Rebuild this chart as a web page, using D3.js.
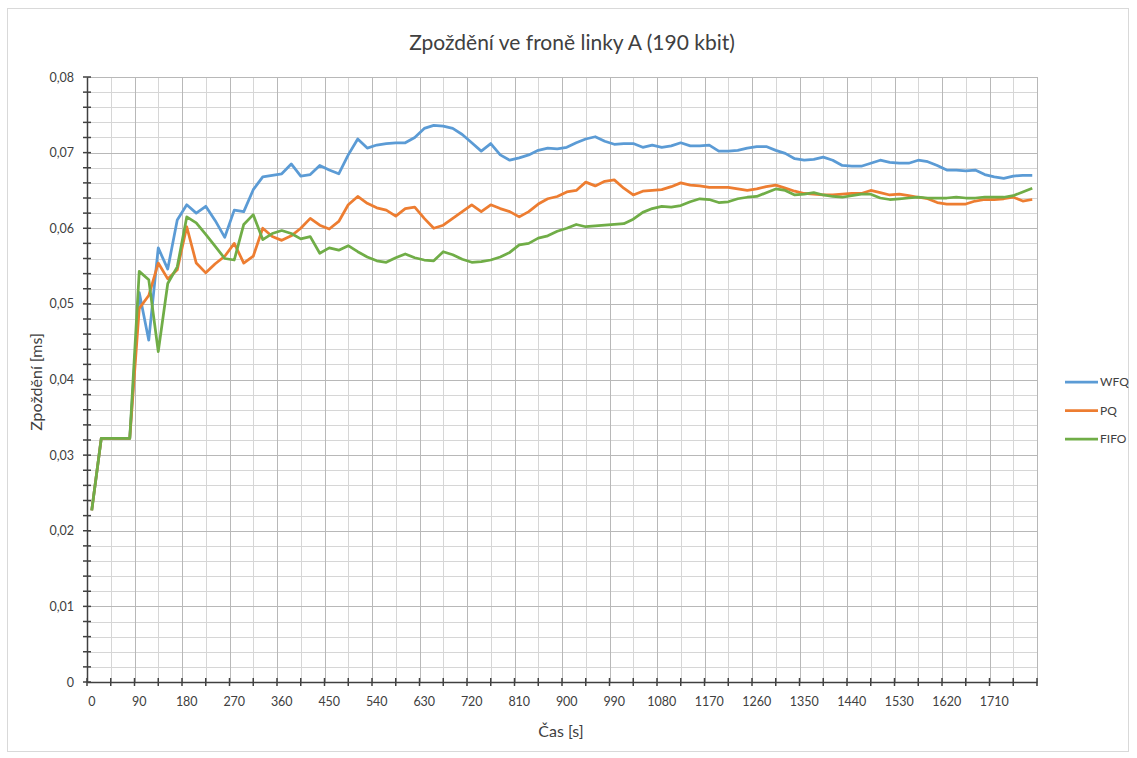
<!DOCTYPE html>
<html>
    <head>
        <meta charset="utf-8">
        <title>Zpoždění ve froně linky A</title>
        <script src="https://d3js.org/d3.v7.min.js"></script>
    </head>
    <style>
        body { margin: 0; background: #fff; }
        text { font-family: Lato, "Open Sans", sans-serif; fill: #404040; }
    </style>
    <body>

        <div id="chart"></div>

        <script>

            // time categories [s]
            var times = [0, 18, 36, 54, 72, 90, 108, 126, 144, 162,
                180, 198, 216, 234, 252, 270, 288, 306, 324, 342,
                360, 378, 396, 414, 432, 450, 468, 486, 504, 522,
                540, 558, 576, 594, 612, 630, 648, 666, 684, 702,
                720, 738, 756, 774, 792, 810, 828, 846, 864, 882,
                900, 918, 936, 954, 972, 990, 1008, 1026, 1044, 1062,
                1080, 1098, 1116, 1134, 1152, 1170, 1188, 1206, 1224, 1242,
                1260, 1278, 1296, 1314, 1332, 1350, 1368, 1386, 1404, 1422,
                1440, 1458, 1476, 1494, 1512, 1530, 1548, 1566, 1584, 1602,
                1620, 1638, 1656, 1674, 1692, 1710, 1728, 1746, 1764, 1782];

            var wfq = [0.0227, 0.0322, 0.0322, 0.0322, 0.0322, 0.0515, 0.0452, 0.0574, 0.0546, 0.0611,
                0.0631, 0.0620, 0.0629, 0.0610, 0.0588, 0.0624, 0.0622, 0.0651, 0.0668, 0.0670,
                0.0672, 0.0685, 0.0669, 0.0671, 0.0683, 0.0677, 0.0672, 0.0697, 0.0718, 0.0706,
                0.0710, 0.0712, 0.0713, 0.0713, 0.0720, 0.0732, 0.0736, 0.0735, 0.0732, 0.0724,
                0.0713, 0.0702, 0.0712, 0.0697, 0.0690, 0.0693, 0.0697, 0.0703, 0.0706, 0.0705,
                0.0707, 0.0713, 0.0718, 0.0721, 0.0715, 0.0711, 0.0712, 0.0712, 0.0707, 0.0710,
                0.0707, 0.0709, 0.0713, 0.0709, 0.0709, 0.0710, 0.0702, 0.0702, 0.0703, 0.0706,
                0.0708, 0.0708, 0.0703, 0.0699, 0.0692, 0.0690, 0.0691, 0.0694, 0.0690, 0.0683,
                0.0682, 0.0682, 0.0686, 0.0690, 0.0687, 0.0686, 0.0686, 0.0690, 0.0688, 0.0683,
                0.0677, 0.0677, 0.0676, 0.0677, 0.0671, 0.0668, 0.0666, 0.0669, 0.0670, 0.0670];

            var pq = [0.0227, 0.0322, 0.0322, 0.0322, 0.0322, 0.0494, 0.0511, 0.0554, 0.0533, 0.0545,
                0.0602, 0.0554, 0.0541, 0.0553, 0.0563, 0.0580, 0.0554, 0.0563, 0.0600, 0.0589,
                0.0584, 0.0590, 0.0600, 0.0613, 0.0604, 0.0599, 0.0609, 0.0631, 0.0642, 0.0633,
                0.0627, 0.0624, 0.0616, 0.0626, 0.0628, 0.0613, 0.0600, 0.0604, 0.0613, 0.0622,
                0.0631, 0.0622, 0.0631, 0.0626, 0.0622, 0.0615, 0.0622, 0.0632, 0.0639, 0.0642,
                0.0648, 0.0650, 0.0661, 0.0656, 0.0662, 0.0664, 0.0653, 0.0644, 0.0649, 0.0650,
                0.0651, 0.0655, 0.0660, 0.0657, 0.0656, 0.0654, 0.0654, 0.0654, 0.0652, 0.0650,
                0.0652, 0.0655, 0.0657, 0.0653, 0.0649, 0.0646, 0.0645, 0.0644, 0.0644, 0.0645,
                0.0646, 0.0646, 0.0650, 0.0647, 0.0644, 0.0645, 0.0643, 0.0641, 0.0639, 0.0634,
                0.0632, 0.0632, 0.0632, 0.0636, 0.0638, 0.0638, 0.0639, 0.0641, 0.0636, 0.0638];

            var fifo = [0.0227, 0.0322, 0.0322, 0.0322, 0.0322, 0.0543, 0.0532, 0.0437, 0.0527, 0.0549,
                0.0615, 0.0607, 0.0592, 0.0576, 0.0560, 0.0558, 0.0605, 0.0618, 0.0585, 0.0593,
                0.0597, 0.0593, 0.0586, 0.0589, 0.0567, 0.0574, 0.0571, 0.0577, 0.0569, 0.0562,
                0.0557, 0.0555, 0.0561, 0.0566, 0.0561, 0.0558, 0.0557, 0.0569, 0.0565, 0.0559,
                0.0555, 0.0556, 0.0558, 0.0562, 0.0568, 0.0578, 0.0580, 0.0587, 0.0590, 0.0596,
                0.0600, 0.0605, 0.0602, 0.0603, 0.0604, 0.0605, 0.0606, 0.0612, 0.0621, 0.0626,
                0.0629, 0.0628, 0.0630, 0.0635, 0.0639, 0.0638, 0.0634, 0.0635, 0.0639, 0.0641,
                0.0642, 0.0647, 0.0652, 0.0650, 0.0644, 0.0645, 0.0647, 0.0644, 0.0642, 0.0641,
                0.0643, 0.0645, 0.0645, 0.0640, 0.0638, 0.0639, 0.0640, 0.0641, 0.0640, 0.0640,
                0.0640, 0.0641, 0.0640, 0.0640, 0.0641, 0.0641, 0.0641, 0.0643, 0.0648, 0.0653];

            var seriesNames = ["WFQ", "PQ", "FIFO"];
            var seriesColors = ["#5b9bd5", "#ed7d31", "#70ad47"];
            var yMajor = [0, 0.01, 0.02, 0.03, 0.04, 0.05, 0.06, 0.07, 0.08];

            var W = 1137, H = 758;
            var margin = {top: 77, right: 100, bottom: 76, left: 87},
                width = W - margin.left - margin.right,
                height = H - margin.top - margin.bottom;

            var svg0 = d3.select("#chart")
            .append("svg")
                .attr("width", W)
                .attr("height", H);

            // outer chart frame
            svg0.append("rect")
                .attr("x", 7.5).attr("y", 8.5)
                .attr("width", 1121).attr("height", 743)
                .attr("fill", "#fff")
                .attr("stroke", "#d9d9d9");

            var svg = svg0.append("g")
                .attr("transform", "translate(" + margin.left + "," + margin.top + ")");

            var x = d3.scaleBand().domain(times).range([0, width]);
            var bw = x.bandwidth();
            var y = d3.scaleLinear().domain([0, 0.08]).range([height, 0]);

            // vertical grid: major every 5 categories, minor halfway
            var vMajor = [], vMinor = [];
            for (var i = 0; i <= times.length; i += 5) {
                vMajor.push(i < times.length ? x(times[i]) : width);
                if (i + 2 < times.length) vMinor.push(x(times[i + 2]) + bw / 2);
            }
            var yMinor = d3.range(0, 0.0801, 0.002).filter(function(d) {
                return Math.abs(d * 100 - Math.round(d * 100)) > 1e-6;
            });

            svg.selectAll(".hmin").data(yMinor).enter().append("line")
                .attr("x1", 0).attr("x2", width)
                .attr("y1", function(d) { return Math.round(y(d)) + 0.5; })
                .attr("y2", function(d) { return Math.round(y(d)) + 0.5; })
                .attr("stroke", "#d6d6d6");
            svg.selectAll(".vmin").data(vMinor).enter().append("line")
                .attr("y1", 0).attr("y2", height)
                .attr("x1", function(d) { return Math.round(d) + 0.5; })
                .attr("x2", function(d) { return Math.round(d) + 0.5; })
                .attr("stroke", "#d6d6d6");
            svg.selectAll(".hmaj").data(yMajor).enter().append("line")
                .attr("x1", 0).attr("x2", width)
                .attr("y1", function(d) { return Math.round(y(d)) + 0.5; })
                .attr("y2", function(d) { return Math.round(y(d)) + 0.5; })
                .attr("stroke", "#b8b8b8");
            svg.selectAll(".vmaj").data(vMajor).enter().append("line")
                .attr("y1", 0).attr("y2", height)
                .attr("x1", function(d) { return Math.round(d) + 0.5; })
                .attr("x2", function(d) { return Math.round(d) + 0.5; })
                .attr("stroke", "#b8b8b8");

            // the lines
            var allSeries = [wfq, pq, fifo];
            allSeries.forEach(function(vals, k) {
                svg.append("path")
                .datum(vals)
                .attr("fill", "none")
                .attr("stroke", seriesColors[k])
                .attr("stroke-width", 2.75)
                .attr("stroke-linejoin", "round")
                .attr("d", d3.line()
                    .x(function(d, i) { return x(times[i]) + bw / 2; })
                    .y(function(d) { return y(d); })
                    );
            });

            // Y axis
            var fmt = function(d) { return d === 0 ? "0" : d3.format(".2f")(d).replace(".", ","); };
            var yAxis = svg.append("g")
                .call(d3.axisLeft(y).tickValues(yMajor).tickSize(0).tickPadding(13).tickFormat(fmt));
            yAxis.select(".domain").attr("stroke", "#404040").attr("stroke-width", 1.5);
            yAxis.selectAll("text").style("font-size", "12.5px").attr("fill", "#404040");
            svg.selectAll(".ytick").data(yMinor.concat(yMajor)).enter().append("line")
                .attr("x1", -4).attr("x2", 4)
                .attr("y1", function(d) { return y(d); })
                .attr("y2", function(d) { return y(d); })
                .attr("stroke", "#404040").attr("stroke-width", 1.5);

            // X axis, labels every 5th category
            var xAxis = svg.append("g")
                .attr("transform", "translate(0," + height + ")")
                .call(d3.axisBottom(x)
                    .tickValues(times.filter(function(d, i) { return i % 5 === 0; }))
                    .tickSize(0).tickPadding(15));
            xAxis.select(".domain").attr("stroke", "#404040").attr("stroke-width", 1.5);
            xAxis.selectAll("text").style("font-size", "12.5px").attr("fill", "#404040");
            svg.selectAll(".xtick").data(vMajor.concat(vMinor)).enter().append("line")
                .attr("x1", function(d) { return d; })
                .attr("x2", function(d) { return d; })
                .attr("y1", height - 4).attr("y2", height + 4)
                .attr("stroke", "#404040").attr("stroke-width", 1.5);

            // titles
            svg0.append("text")
                .attr("x", 572).attr("y", 50)
                .attr("text-anchor", "middle")
                .style("font-size", "21px")
                .text("Zpoždění ve froně linky A (190 kbit)");
            svg0.append("text")
                .attr("x", 561).attr("y", 737)
                .attr("text-anchor", "middle")
                .style("font-size", "16px")
                .text("Čas [s]");
            svg0.append("text")
                .attr("transform", "translate(42,382) rotate(-90)")
                .attr("text-anchor", "middle")
                .style("font-size", "16px")
                .text("Zpoždění [ms]");

            // legend
            var legend = svg0.selectAll(".leg").data(seriesNames).enter().append("g")
                .attr("transform", function(d, i) { return "translate(1065," + (382 + i * 28.5) + ")"; });
            legend.append("line")
                .attr("x1", 0).attr("x2", 33)
                .attr("stroke", function(d, i) { return seriesColors[i]; })
                .attr("stroke-width", 2.75);
            legend.append("text")
                .attr("x", 35).attr("dy", "0.35em")
                .style("font-size", "12px")
                .text(function(d) { return d; });

        </script>
    </body>
</html>
